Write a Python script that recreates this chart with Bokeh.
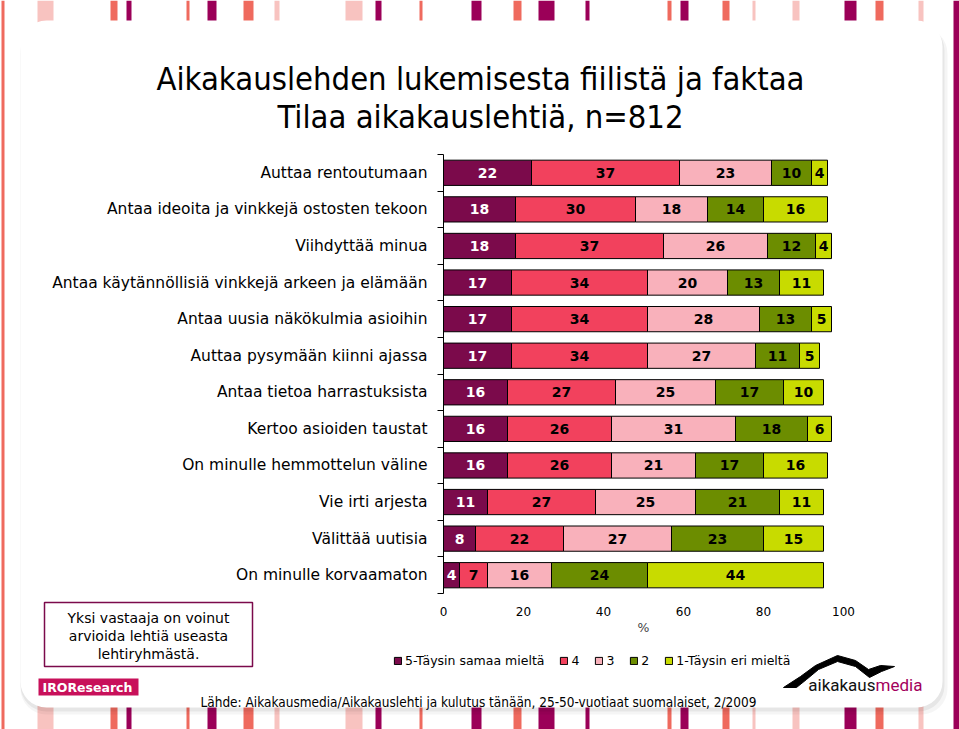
import numpy as np
from bokeh.plotting import figure
from bokeh.models import (ColumnDataSource, Range1d, FixedTicker, Label, LinearAxis,
                          BoxAnnotation, PolyAnnotation)
from bokeh.embed import file_html
from bokeh.resources import INLINE
from bokeh.core.properties import value

# ---------------- data ----------------
title_line1 = "Aikakauslehden lukemisesta fiilistä ja faktaa"
title_line2 = "Tilaa aikakauslehtiä, n=812"
categories = [
    "Auttaa rentoutumaan",
    "Antaa ideoita ja vinkkejä ostosten tekoon",
    "Viihdyttää minua",
    "Antaa käytännöllisiä vinkkejä arkeen ja elämään",
    "Antaa uusia näkökulmia asioihin",
    "Auttaa pysymään kiinni ajassa",
    "Antaa tietoa harrastuksista",
    "Kertoo asioiden taustat",
    "On minulle hemmottelun väline",
    "Vie irti arjesta",
    "Välittää uutisia",
    "On minulle korvaamaton",
]
level_names = ["5-Täysin samaa mieltä", "4", "3", "2", "1-Täysin eri mieltä"]
s5 = [22, 18, 18, 17, 17, 17, 16, 16, 16, 11, 8, 4]
s4 = [37, 30, 37, 34, 34, 34, 27, 26, 26, 27, 22, 7]
s3 = [23, 18, 26, 20, 28, 27, 25, 31, 21, 25, 27, 16]
s2 = [10, 14, 12, 13, 13, 11, 17, 18, 17, 21, 23, 24]
s1 = [4, 16, 4, 11, 5, 5, 10, 6, 16, 11, 15, 44]
x_ticks = [0, 20, 40, 60, 80, 100]
x_label = "%"
note_lines = ["Yksi vastaaja on voinut", "arvioida lehtiä useasta", "lehtiryhmästä."]
source_text = ("Lähde: Aikakausmedia/Aikakauslehti ja kulutus tänään, "
               "25-50-vuotiaat suomalaiset, 2/2009")

# ---------------- style ----------------
level_colors = ["#7B0A4B", "#F2415D", "#F9B1BB", "#6C8D00", "#C8DB00"]
label_colors = ["white", "black", "black", "black", "black"]
FONT = "DejaVu Sans"
COND = "DejaVu Sans Condensed"

W, H = 959, 729
# where the bar area sits on the canvas (px)
AX_L, AX_T, AX_B = 443, 154, 593
PX_PER_PCT = 4.0
NCAT = len(categories)
PX_PER_ROW = (AX_B - AX_T) / NCAT


def DX(X):
    return (X - AX_L) / PX_PER_PCT


def DY(Y):
    return -0.5 + (Y - AX_T) / PX_PER_ROW


p = figure(width=W, height=H, output_backend="svg", toolbar_location=None,
           x_range=Range1d(DX(0), DX(W)), y_range=Range1d(DY(H), DY(0)),
           x_axis_location=None, y_axis_location=None, min_border=0)
p.background_fill_color = "white"
p.border_fill_color = "white"
p.outline_line_color = None
p.xgrid.visible = False
p.ygrid.visible = False


def box(x0, x1, y0, y1, **kw):
    b = BoxAnnotation(left=DX(x0), right=DX(x1), top=DY(y0), bottom=DY(y1), **kw)
    p.add_layout(b)
    return b


# ---------- decorative background: stripes + rounded panel ----------
stripe_specs = [
    (1, 4, "#EF6A5E"),
    (37, 53, "#F8C3C0"), (110, 117, "#EF6A5E"), (126, 131, "#9B0058"),
    (186, 189, "#EF6A5E"), (207, 216, "#9B0058"), (243, 253, "#EF6A5E"),
    (274, 279, "#F8C3C0"), (345, 362, "#F8C3C0"), (375, 381, "#9B0058"),
    (419, 422, "#EF6A5E"), (471, 481, "#9B0058"), (513, 521, "#EF6A5E"),
    (538, 554, "#9B0058"), (585, 589, "#9B0058"), (667, 671, "#EF6A5E"),
    (680, 688, "#9B0058"), (722, 729, "#EF6A5E"), (752, 755, "#F8C3C0"),
    (792, 799, "#F8C3C0"), (844, 856, "#9B0058"), (875, 883, "#EF6A5E"),
    (918, 923, "#F8C3C0"), (953, 959, "#9B0058"),
]
for x0, x1, c in stripe_specs:
    box(x0, x1, 0, H, fill_color=c, fill_alpha=1, line_color=None, level="underlay")

for off, a in [(7, 0.04), (4, 0.06)]:
    box(20, 942 + off - 2, 20 + off, 707 + off, fill_color="black", fill_alpha=a,
        line_color=None, border_radius=26, level="underlay")
box(20, 942, 20, 707, fill_color="white", fill_alpha=1, line_color=None,
    border_radius=26, level="underlay")

# note box and IRO logo box
box(44, 252, 602, 666, fill_color="white", fill_alpha=1, line_color="#7B0A4B",
    line_alpha=1, line_width=1.5, level="underlay")
box(38, 138, 678, 695, fill_color="#C8105A", fill_alpha=1, line_color=None,
    level="underlay")

# aikakausmedia swoosh
swoosh_x = [783, 800, 815, 837, 855, 868, 880, 894, 881, 869, 855, 837, 818, 806, 796]
swoosh_y = [687, 676, 665, 655, 660, 669, 665, 666, 671, 677, 666, 661, 669, 679, 687]
p.add_layout(PolyAnnotation(xs=[DX(v) for v in swoosh_x], ys=[DY(v) for v in swoosh_y],
                            fill_color="black", fill_alpha=1, line_color="black",
                            line_alpha=1, line_width=1, level="underlay"))

# ---------------- bars ----------------
ypos = list(range(NCAT))
series = [s5, s4, s3, s2, s1]
keys = ["s5", "s4", "s3", "s2", "s1"]
src = ColumnDataSource(dict(y=ypos, **{k: v for k, v in zip(keys, series)}))
p.hbar_stack(keys, y="y", height=0.69, color=level_colors, line_color="black",
             line_width=1, source=src, legend_label=level_names)

arr = np.array(series, dtype=float)
cum = np.cumsum(arr, axis=0)
mids = cum - arr / 2
lx, ly, lt, lc = [], [], [], []
for i in range(len(series)):
    for j in range(NCAT):
        lx.append(mids[i, j])
        ly.append(ypos[j])
        lt.append(str(series[i][j]))
        lc.append(label_colors[i])
lsrc = ColumnDataSource(dict(x=lx, y=ly, t=lt, c=lc))
p.text(x="x", y="y", text="t", text_color="c", source=lsrc,
       text_align="center", text_baseline="middle",
       text_font=value(FONT), text_font_style="bold", text_font_size="14px")

# ---------------- axes ----------------
ya = LinearAxis(fixed_location=0, bounds=(-0.5, NCAT - 0.5))
ya.ticker = FixedTicker(ticks=ypos, minor_ticks=[i - 0.5 for i in range(NCAT + 1)])
ya.major_label_overrides = {i: c for i, c in zip(ypos, categories)}
ya.major_tick_line_color = None
ya.major_tick_out = 0
ya.major_tick_in = 0
ya.minor_tick_line_color = "black"
ya.minor_tick_out = 6
ya.minor_tick_in = 0
ya.axis_line_color = "black"
ya.major_label_standoff = 10
ya.major_label_text_font = FONT
ya.major_label_text_font_size = "15.5px"
ya.major_label_text_color = "black"
p.add_layout(ya, "left")

xa = LinearAxis(fixed_location=NCAT - 0.5, bounds=(0, 100))
xa.ticker = FixedTicker(ticks=x_ticks)
xa.axis_line_color = None
xa.major_tick_line_color = None
xa.minor_tick_line_color = None
xa.major_tick_out = 0
xa.major_tick_in = 0
xa.major_label_standoff = 13
xa.major_label_text_font = FONT
xa.major_label_text_font_size = "12px"
xa.major_label_text_color = "black"
xa.axis_label = x_label
xa.axis_label_standoff = 1
xa.axis_label_text_font = FONT
xa.axis_label_text_font_style = "normal"
xa.axis_label_text_font_size = "12.5px"
p.add_layout(xa, "below")

# ---------------- legend ----------------
lg = p.legend[0]
lg.orientation = "horizontal"
lg.location = (393, H - 668)
lg.glyph_width = 9
lg.glyph_height = 9
lg.label_height = 12
lg.label_width = 0
lg.label_standoff = 3
lg.spacing = 15
lg.padding = 0
lg.margin = 0
lg.border_line_color = None
lg.background_fill_alpha = 0
lg.label_text_font = FONT
lg.label_text_font_size = "12.5px"
lg.label_text_color = "black"


# ---------------- texts ----------------
def add_label(text, X, Y, size, font=FONT, align="center", color="black", style="normal"):
    p.add_layout(Label(x=DX(X), y=DY(Y), text=text,
                       text_align=align, text_baseline="middle", text_font=font,
                       text_font_size=size, text_color=color, text_font_style=style))


add_label(title_line1, 480, 78, "32.5px", font=COND)
add_label(title_line2, 480, 116, "32.5px", font=COND)

for k, line in enumerate(note_lines):
    add_label(line, 148, 617 + 18 * k, "14px")

add_label("IROResearch", 87, 687, "12.5px", color="white", style="bold")
add_label("aikakaus", 875, 684, "17px", font="Roboto", align="right", color="#111111")
add_label("media", 875, 684, "17px", font="Roboto", align="left", color="#A3005C")

add_label(source_text, 200, 701, "13.5px", font=COND, align="left")

open("out.html", "w").write(file_html(p, INLINE))
